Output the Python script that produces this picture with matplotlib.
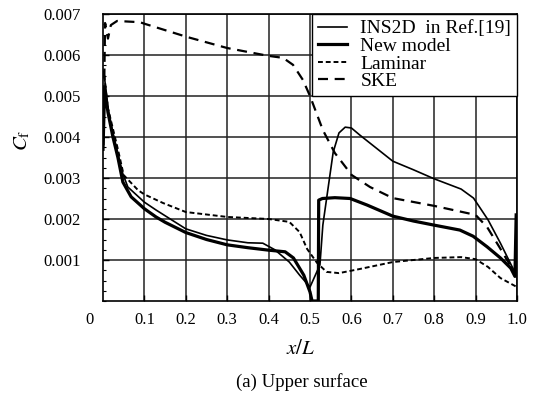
import matplotlib
matplotlib.use("Agg")
import matplotlib.pyplot as plt
from matplotlib.ticker import MultipleLocator

plt.rcParams['font.family'] = ['Liberation Serif', 'DejaVu Serif']
plt.rcParams['mathtext.fontset'] = 'stix'

# ---- data ----
ins_x = [0.002, 0.012, 0.024, 0.036, 0.048, 0.06, 0.1, 0.128, 0.2, 0.25, 0.3, 0.35, 0.386,
         0.415, 0.45, 0.475, 0.5, 0.524, 0.531, 0.556, 0.57, 0.585, 0.6, 0.62, 0.7, 0.75,
         0.8, 0.865, 0.895, 0.93, 0.96, 0.985, 0.995]
ins_cf = [0.0056, 0.0047, 0.0041, 0.0036, 0.0031, 0.00278, 0.00241, 0.00222, 0.00176, 0.0016,
          0.00149, 0.00142, 0.00141, 0.00125, 0.00095, 0.00063, 0.00034, 0.00088, 0.00185,
          0.00363, 0.0041, 0.00424, 0.00422, 0.00405, 0.00341, 0.0032, 0.00298, 0.00273,
          0.00251, 0.00198, 0.00141, 0.0009, 0.0007]

new_x = [0.0, 0.004, 0.012, 0.024, 0.036, 0.048, 0.068, 0.1, 0.128, 0.15, 0.2, 0.25, 0.3,
         0.35, 0.4, 0.44, 0.46, 0.485, 0.5, 0.505, 0.52, 0.521, 0.53, 0.56, 0.597, 0.638,
         0.7, 0.75, 0.8, 0.862, 0.894, 0.928, 0.96, 0.985, 0.995, 0.998]
new_cf = [0.0037, 0.0052, 0.0046, 0.0040, 0.0035, 0.0029, 0.00254, 0.00225, 0.00205, 0.00192,
          0.00167, 0.0015, 0.00137, 0.0013, 0.00124, 0.0012, 0.00105, 0.00063, 0.00022, 0.0,
          0.0, 0.00246, 0.0025, 0.00252, 0.0025, 0.00234, 0.00207, 0.00195, 0.00185, 0.00173,
          0.00158, 0.00132, 0.00105, 0.0008, 0.0006, 0.0021]

lam_x = [0.003, 0.012, 0.024, 0.036, 0.05, 0.085, 0.1, 0.145, 0.2, 0.3, 0.4, 0.45, 0.475,
         0.493, 0.517, 0.54, 0.57, 0.62, 0.7, 0.8, 0.865, 0.9, 0.93, 0.96, 1.0]
lam_cf = [0.0055, 0.0047, 0.0042, 0.0037, 0.00307, 0.0027, 0.0026, 0.00239, 0.00217, 0.00205,
          0.002, 0.00193, 0.00168, 0.00127, 0.00093, 0.00071, 0.00068, 0.00078, 0.00095,
          0.00105, 0.00107, 0.00102, 0.00083, 0.00056, 0.00034]

ske_x = [0.001, 0.005, 0.012, 0.019, 0.034, 0.089, 0.101, 0.203, 0.3, 0.399, 0.435, 0.459,
         0.483, 0.5, 0.531, 0.56, 0.601, 0.645, 0.7, 0.8, 0.9, 0.928, 0.959, 0.99]
ske_cf = [0.0038, 0.00678, 0.0064, 0.00673, 0.00683, 0.0068, 0.00676, 0.00644, 0.00617,
          0.00598, 0.00593, 0.00576, 0.00539, 0.005, 0.00417, 0.00361, 0.00307, 0.00278,
          0.00251, 0.00232, 0.0021, 0.0018, 0.00129, 0.00076]

labels = ['INS2D  in Ref.[19]', 'New model', 'Laminar', 'SKE']
xticks = [0.1, 0.2, 0.3, 0.4, 0.5, 0.6, 0.7, 0.8, 0.9, 1.0]
xticklabels = ['0.1', '0.2', '0.3', '0.4', '0.5', '0.6', '0.7', '0.8', '0.9', '1.0']
yticks = [0.001, 0.002, 0.003, 0.004, 0.005, 0.006, 0.007]
yticklabels = ['0.001', '0.002', '0.003', '0.004', '0.005', '0.006', '0.007']

fig = plt.figure(figsize=(5.39, 3.94), dpi=100)
ax = fig.add_axes([103/539, 1 - 301/394, (517-103)/539, (301-14)/394])

ax.plot(ins_x, ins_cf, color='black', lw=1.2, label=labels[0], zorder=3)
ax.plot(new_x, new_cf, color='black', lw=2.3, label=labels[1], zorder=3)
ax.plot(lam_x, lam_cf, color='black', lw=1.4, dashes=(2.5, 1.5), label=labels[2], zorder=3)
ax.plot(ske_x, ske_cf, color='black', lw=1.6, dashes=(4.5, 3), label=labels[3], zorder=3)

ax.set_xlim(0, 1.0)
ax.set_ylim(0, 0.007)
ax.set_xticks(xticks)
ax.set_xticklabels(xticklabels)
ax.set_yticks(yticks)
ax.set_yticklabels(yticklabels)
ax.yaxis.set_minor_locator(MultipleLocator(0.00025))
ax.tick_params(axis='both', which='major', direction='in', length=4, labelsize=12, width=1)
ax.tick_params(axis='y', which='minor', direction='in', length=2.5, width=0.8)
ax.tick_params(axis='x', pad=8)
ax.tick_params(axis='y', pad=16)
ax.grid(True, which='major', color='#222222', lw=1.1)
for s in ax.spines.values():
    s.set_linewidth(1.2)
    s.set_color('black')

fig.text(89/539, 1 - 320/394, '0', ha='center', va='center', fontsize=12)

ax.set_ylabel(r'$C_{\rm f}$', fontsize=15)
ax.yaxis.set_label_coords((22 - 103) / 414, (301 - 140) / 287)
ax.set_xlabel(r'$x/L$', fontsize=15)
ax.xaxis.set_label_coords((301 - 103) / 414, (301 - 350) / 287)
ax.xaxis.label.set_va('center')
ax.yaxis.label.set_va('center')
fig.text(302/539, 1 - 382/394, '(a) Upper surface', ha='center', va='center', fontsize=13.5)

leg = ax.legend(loc='upper right', fontsize=14, frameon=True, fancybox=False,
                framealpha=1, edgecolor='black', borderaxespad=0, handlelength=1.5,
                labelspacing=0.0, borderpad=0.3, handletextpad=0.7)
leg.get_frame().set_linewidth(1.0)
leg.set_zorder(5)

fig.savefig('out.png', dpi=100)
